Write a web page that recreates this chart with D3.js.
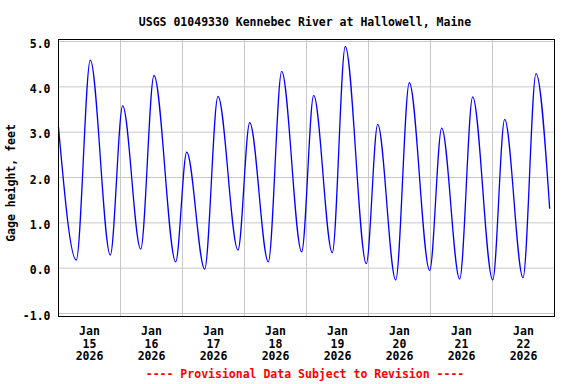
<!DOCTYPE html>
<html>
<head>
<meta charset="utf-8">
<script src="https://cdn.jsdelivr.net/npm/d3@7"></script>
<style>
  html, body { margin: 0; padding: 0; background: #fff; }
  text { font-family: "DejaVu Sans Mono", "Liberation Mono", monospace; font-weight: bold; }
</style>
</head>
<body>
<svg id="chart" width="576" height="384"></svg>
<script>
// gage readings at each high / low tide (plus first and last reading)
const readingTimes = [
  "2026-01-15T00:00", "2026-01-15T06:53", "2026-01-15T12:19", "2026-01-15T20:03",
  "2026-01-16T00:51", "2026-01-16T07:49", "2026-01-16T12:58", "2026-01-16T21:22",
  "2026-01-17T01:38", "2026-01-17T08:35", "2026-01-17T13:44", "2026-01-17T21:29",
  "2026-01-18T02:01", "2026-01-18T09:13", "2026-01-18T14:24", "2026-01-18T22:08",
  "2026-01-19T02:47", "2026-01-19T09:59", "2026-01-19T15:01", "2026-01-19T23:09",
  "2026-01-20T03:34", "2026-01-20T10:32", "2026-01-20T15:48", "2026-01-20T23:41",
  "2026-01-21T04:20", "2026-01-21T11:18", "2026-01-21T16:20", "2026-01-22T00:05",
  "2026-01-22T04:43", "2026-01-22T11:49", "2026-01-22T16:51", "2026-01-22T22:08"
];
const gageFeet = [
  3.11, 0.18, 4.59, 0.29,
  3.58, 0.42, 4.25, 0.14,
  2.56, -0.02, 3.79, 0.40,
  3.21, 0.14, 4.34, 0.36,
  3.81, 0.34, 4.89, 0.10,
  3.17, -0.26, 4.09, -0.05,
  3.09, -0.24, 3.78, -0.26,
  3.28, -0.21, 4.29, 1.31
];
const dayTicks = ["2026-01-15", "2026-01-16", "2026-01-17", "2026-01-18",
                  "2026-01-19", "2026-01-20", "2026-01-21", "2026-01-22", "2026-01-23"];
const yTicks = [-1, 0, 1, 2, 3, 4, 5];

const parseTime = d3.timeParse("%Y-%m-%dT%H:%M");
const parseDay = d3.timeParse("%Y-%m-%d");
const data = readingTimes.map((t, i) => ({ t: parseTime(t), v: gageFeet[i] }));
const days = dayTicks.map(parseDay);

// plot box
const plotLeft = 58.5, plotRight = 554.5, plotTop = 39.5, plotBottom = 316.5;

const svg = d3.select('#chart');

const x = d3.scaleTime()
    .domain([days[0], days[days.length - 1]])
    .range([plotLeft, plotRight]);

const y = d3.scaleLinear()
    .domain([-1, 5])
    .range([313.5, 41.5]);

// horizontal grid
svg.append('g')
    .attr('transform', `translate(${plotLeft},0)`)
    .call(d3.axisLeft(y).tickValues(yTicks).tickSize(-(plotRight - plotLeft)).tickFormat('').offset(0))
    .call(g => g.select('.domain').remove())
    .call(g => g.selectAll('line').attr('stroke', '#c8c8c8'));

// vertical grid, one line at each midnight
svg.append('g')
    .attr('transform', `translate(0,${plotBottom})`)
    .call(d3.axisBottom(x).tickValues(days.slice(1, -1)).tickSize(-(plotBottom - plotTop)).tickFormat('').offset(0))
    .call(g => g.select('.domain').remove())
    .call(g => g.selectAll('line').attr('stroke', '#c8c8c8'));

// the gage height line
const line = d3.line()
    .x(d => x(d.t))
    .y(d => y(d.v))
    .curve(d3.curveMonotoneX);

svg.append('path')
    .datum(data)
    .attr('d', line)
    .attr('fill', 'none')
    .attr('stroke', '#0000ff')
    .attr('stroke-width', 1.3);

// frame
svg.append('rect')
    .attr('x', plotLeft)
    .attr('y', plotTop)
    .attr('width', plotRight - plotLeft)
    .attr('height', plotBottom - plotTop)
    .attr('fill', 'none')
    .attr('stroke', '#000')
    .attr('stroke-width', 1);

// y tick labels
svg.append('g')
    .attr('transform', `translate(${plotLeft},0)`)
    .call(d3.axisLeft(y).tickValues(yTicks).tickSize(0).tickPadding(8).tickFormat(d => d.toFixed(1)).offset(0))
    .call(g => g.select('.domain').remove())
    .call(g => g.selectAll('text')
        .attr('font-family', null)
        .attr('font-size', 11.5)
        .attr('fill', '#000')
        .attr('dy', '0.55em'));

// x labels at noon of each day
const noons = days.slice(0, -1).map(d => d3.timeHour.offset(d, 12));
const xAxis = svg.append('g')
    .attr('transform', `translate(0,${plotBottom})`)
    .call(d3.axisBottom(x).tickValues(noons).tickSize(0).tickFormat('').offset(0));
xAxis.select('.domain').remove();
xAxis.selectAll('.tick text').remove();
xAxis.selectAll('.tick').each(function (d) {
  const t = d3.select(this).append('text')
      .attr('text-anchor', 'middle')
      .attr('font-size', 11.5)
      .attr('fill', '#000');
  [d3.timeFormat('%b')(d), d3.timeFormat('%d')(d), d3.timeFormat('%Y')(d)].forEach((s, i) => {
    t.append('tspan').attr('x', 0).attr('y', 18.5 + i * 12.5).text(s);
  });
});

// title
svg.append('text')
    .attr('x', 305)
    .attr('y', 26)
    .attr('text-anchor', 'middle')
    .attr('font-size', 11.5)
    .text('USGS 01049330 Kennebec River at Hallowell, Maine');

// y axis label
svg.append('text')
    .attr('transform', 'translate(15,183) rotate(-90)')
    .attr('text-anchor', 'middle')
    .attr('font-size', 11.5)
    .text('Gage height, feet');

// provisional note
svg.append('text')
    .attr('x', 305)
    .attr('y', 378)
    .attr('text-anchor', 'middle')
    .attr('font-size', 11.5)
    .attr('fill', '#ff0000')
    .text('---- Provisional Data Subject to Revision ----');
</script>
</body>
</html>
